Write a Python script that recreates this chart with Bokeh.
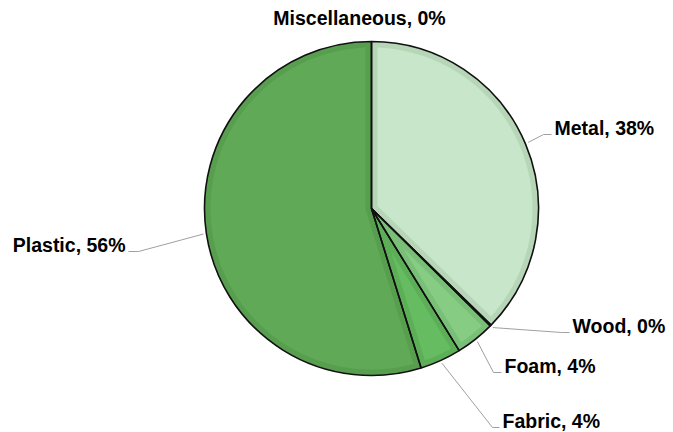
import numpy as np
from bokeh.plotting import figure
from bokeh.models import Range1d, ColumnDataSource
from bokeh.embed import file_html
from bokeh.resources import INLINE
from bokeh.core.properties import value

# ---- data ----
categories = ["Metal", "Wood", "Foam", "Fabric", "Plastic", "Miscellaneous"]
shares = [37.3, 0.1, 3.8, 4.0, 54.8, 0.0]
share_labels = ["38%", "0%", "4%", "4%", "56%", "0%"]

# ---- styles ----
colors = ["#c8e6c9", "#a5d6a7", "#86cc83", "#66bc60", "#60a957", "#4c9a44"]
bevel_colors = ["#b7d6b8", "#96c798", "#7abf77", "#5daf57", "#589e4f", "#458f3e"]

W, H = 673, 432
CX, CY, R = 371, 224, 167
BEVEL = 6

# label layout in page pixels: anchor x, baseline y, align, leader bend x
label_layout = {
    "Metal": (554, 135, "left", 543),
    "Wood": (572, 333, "left", 561),
    "Foam": (504, 373, "left", 493),
    "Fabric": (502, 428, "left", 492),
    "Plastic": (125, 252, "right", 138),
    "Miscellaneous": (359, 25, "center", None),
}


def px(x):
    return x


def py(y):
    return H - y


def u(t):
    return np.array([np.sin(t), np.cos(t)])


fr = np.array(shares, dtype=float) / np.sum(shares)
ends = np.cumsum(fr) * 2 * np.pi
starts = ends - fr * 2 * np.pi
mids = (starts + ends) / 2

p = figure(width=W, height=H, output_backend="svg", toolbar_location=None,
           x_range=Range1d(0, W), y_range=Range1d(0, H), min_border=0)
p.axis.visible = False
p.grid.visible = False
p.outline_line_color = None
p.background_fill_color = "white"
p.border_fill_color = "white"

idx = [i for i in range(len(shares)) if shares[i] > 0]
src = ColumnDataSource(dict(
    start=[np.pi / 2 - starts[i] for i in idx],
    end=[np.pi / 2 - ends[i] for i in idx],
    fill=[bevel_colors[i] for i in idx],
))
p.wedge(x=CX, y=CY, radius=R, start_angle="start", end_angle="end",
        direction="clock", fill_color="fill", line_color=None, source=src)

# inner (lighter) part of each slice, inset to leave a bevel band
xs, ys, fills = [], [], []
c = np.array([CX, CY], dtype=float)
for i in idx:
    t1, t2 = starts[i], ends[i]
    d = t2 - t1
    if d < 0.02:
        continue
    rr = R - BEVEL
    dl = np.arcsin(BEVEL / rr)
    arc_t = np.linspace(t1 + dl, t2 - dl, 120)
    pts = [c + rr * u(t) for t in arc_t]
    if d < np.pi:
        pts.append(c + BEVEL / np.sin(d / 2) * u((t1 + t2) / 2))
    else:
        back = np.linspace(t2 - np.pi / 2, t1 + np.pi / 2, 30)
        pts += [c + BEVEL * u(t) for t in back]
    pts = np.array(pts)
    xs.append(pts[:, 0])
    ys.append(pts[:, 1])
    fills.append(colors[i])
p.patches(xs=xs, ys=ys, fill_color=fills, line_color=None)

# slice outlines
p.wedge(x=CX, y=CY, radius=R, start_angle="start", end_angle="end",
        direction="clock", fill_color=None, line_color="#111111",
        line_width=1.6, source=src)

# leaders and labels
lx, ly = [], []
groups = {"left": ([], [], []), "right": ([], [], []), "center": ([], [], [])}
for i, cat in enumerate(categories):
    ax, by, al, bx = label_layout[cat]
    txt = f"{cat}, {share_labels[i]}"
    g = groups[al]
    g[0].append(px(ax))
    g[1].append(py(by))
    g[2].append(txt)
    if bx is None:
        continue
    s = c + (R + 3) * u(mids[i])
    ex = ax - 3 if al == "left" else ax + 3
    lx.append([s[0], px(bx), px(ex)])
    ly.append([s[1], py(by - 1), py(by - 1)])
p.multi_line(xs=lx, ys=ly, line_color="#a0a0a0", line_width=1)

for al, (gx, gy, gt) in groups.items():
    if not gx:
        continue
    p.text(x=gx, y=gy, text=gt, text_align=al, text_baseline="alphabetic",
           y_offset=-8,
           text_font=value("Liberation Sans"), text_font_style="bold",
           text_font_size="19.5px", text_color="#000000")

open("out.html", "w").write(file_html(p, INLINE))
